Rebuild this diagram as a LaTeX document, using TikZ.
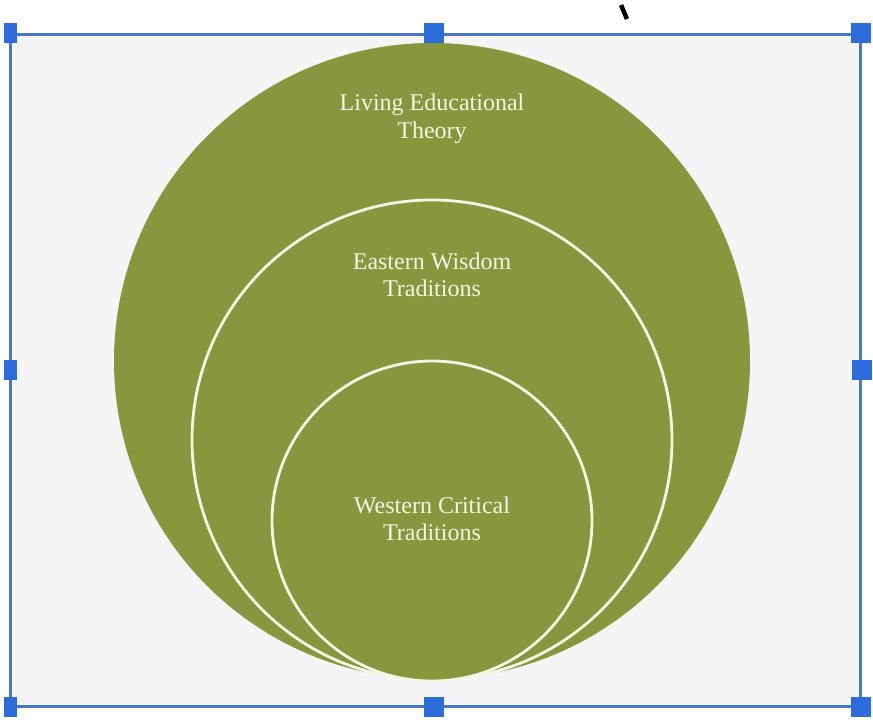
\documentclass[tikz,border=0pt]{standalone}
\usepackage{fontspec}
\setmainfont{Liberation Serif}
\definecolor{olive}{RGB}{134,151,61}
\definecolor{cream}{RGB}{246,246,228}
\definecolor{framebl}{RGB}{74,120,196}
\definecolor{handlebl}{RGB}{45,108,220}
\definecolor{paper}{RGB}{245,245,245}
\tikzset{
  ring/.style={fill=olive, draw=cream, line width=2.8pt},
  lbl/.style={text=cream, font=\fontsize{24}{27.5}\selectfont, align=center},
  handle/.style={fill=handlebl, draw=none, minimum width=20pt, minimum height=20pt, inner sep=0pt},
  frameline/.style={draw=framebl, line width=3pt}
}
\begin{document}
\begin{tikzpicture}[x=1pt,y=-1pt]
\useasboundingbox (0,0) rectangle (873,720);
\fill[white] (0,0) rectangle (873,720);
\fill[paper] (10,34) rectangle (860,706);
% circles
\fill[olive] (432,361) circle (318);
\filldraw[ring] (432,440) circle (240);
\filldraw[ring] (432,521) circle (160);
% labels
\node[lbl] (t1) at (432,119) {Living Educational\\Theory};
\node[lbl] (t2) at (432,275) {Eastern Wisdom\\Traditions};
\node[lbl] (t3) at (432,519) {Western Critical\\Traditions};
% selection frame
\coordinate (tl) at (10,34);
\coordinate (tr) at (860,34);
\coordinate (br) at (860,706);
\coordinate (bl) at (10,706);
\draw[frameline] (tl) -- (tr) -- (br) -- (bl) -- cycle;
\node[handle, minimum width=13pt] (h1) at (10.5,33) {};
\node[handle] (h2) at (434,33) {};
\node[handle] (h3) at (861,33) {};
\node[handle, minimum width=13pt] (h4) at (10.5,370) {};
\node[handle] (h5) at (862,370) {};
\node[handle, minimum width=13pt] (h6) at (10.5,707) {};
\node[handle] (h7) at (434,707) {};
\node[handle] (h8) at (861,707) {};
% stray mark
\draw[black, line width=4.5pt] (621,5) -- (627,19);
\end{tikzpicture}
\end{document}
